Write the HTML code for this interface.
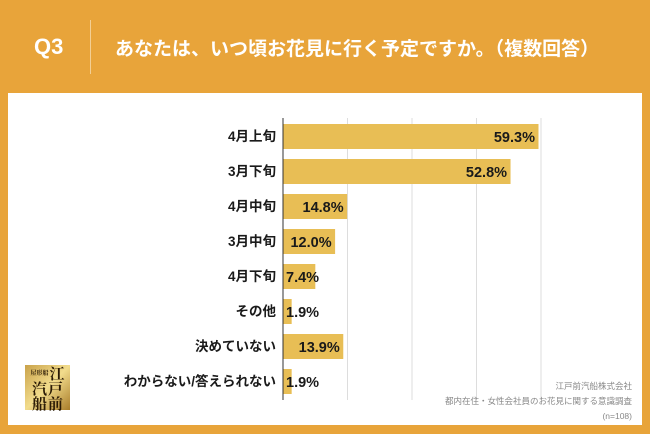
<!DOCTYPE html>
<html><head><meta charset="utf-8"><style>
body{margin:0;width:650px;height:434px;background:#E8A43A;font-family:"Liberation Sans","Noto Sans CJK JP",sans-serif;overflow:hidden;position:relative}
.abs{position:absolute}
</style></head><body>
<div class="abs" style="left:34px;top:34px;font-size:22px;font-weight:bold;color:#fff">Q3</div>
<div class="abs" style="left:90px;top:20px;width:1px;height:54px;background:#f3cf94"></div>
<div class="abs" style="left:115px;top:34px;font-size:19px;font-weight:bold;color:#fff;white-space:nowrap">あなたは、いつ頃お花見に行く予定ですか。（複数回答）</div>
<div class="abs" style="left:8px;top:93px;width:634px;height:332px;background:#fff"></div>
<svg class="abs" style="left:0;top:0" width="650" height="434">
<g id="grid"></g><g id="bars"></g>
</svg>
<div class="abs" style="left:25px;top:365px;width:45px;height:45px;background:linear-gradient(135deg,#c9a24a,#f2dc8c,#a97d2a);color:#2a1a05;font-weight:bold;font-size:15px;line-height:15px;font-family:'Noto Serif CJK SC',serif;text-align:center">
<div style="display:flex;justify-content:center;gap:1px;padding-top:1px"><div style="font-size:6px;line-height:14px">屋形船</div><div>江</div></div>
<div style="display:flex;justify-content:center;gap:1px"><div>汽</div><div>戸</div></div>
<div style="display:flex;justify-content:center;gap:1px"><div>船</div><div>前</div></div></div>
<div class="abs" style="right:18px;top:379px;font-size:8.5px;line-height:15px;color:#888;text-align:right">江戸前汽船株式会社<br>都内在住・女性会社員のお花見に関する意識調査<br>(n=108)</div>
<script>
const categories=["4月上旬","3月下旬","4月中旬","3月中旬","4月下旬","その他","決めていない","わからない/答えられない"];
const values=[59.3,52.8,14.8,12.0,7.4,1.9,13.9,1.9];
const valueLabels=["59.3%","52.8%","14.8%","12.0%","7.4%","1.9%","13.9%","1.9%"];
const gridTicks=[15,30,45,60];
const NS="http://www.w3.org/2000/svg";
const x0=283,pxPer=(541-283)/60,top0=124,pitch=35,bh=25;
const xs=v=>x0+v*pxPer, ys=i=>top0+i*pitch;
const grid=document.getElementById('grid'),bars=document.getElementById('bars');
function mk(t,a,p){const e=document.createElementNS(NS,t);for(const k in a)e.setAttribute(k,a[k]);p.appendChild(e);return e;}
gridTicks.forEach(t=>{const l=mk('line',{x1:xs(t),x2:xs(t),y1:118,y2:400,stroke:'#ddd','stroke-width':1},grid);

});
const ax=mk('line',{x1:x0,x2:x0,y1:118,y2:400,stroke:'#333','stroke-width':1},grid);


categories.forEach((c,i)=>{
const y=ys(i);
const r=mk('rect',{x:x0+0.5,y:y,width:xs(values[i])-x0,height:bh,fill:'#E8BE55'},bars);


const lb=mk('text',{x:276,y:y+bh/2+4.5,'text-anchor':'end','font-size':13.5,'font-weight':'bold',fill:'#1a1a1a'},bars);
lb.textContent=c;


const vt=mk('text',{x:0,y:y+bh/2+5.5,'font-size':14.5,'font-weight':'bold',fill:'#1a1a1a'},bars);
vt.textContent=valueLabels[i];


const w=vt.getComputedTextLength();
vt.setAttribute('x',Math.max(x0+3,xs(values[i])-w-3));
});
</script>
</body></html>
